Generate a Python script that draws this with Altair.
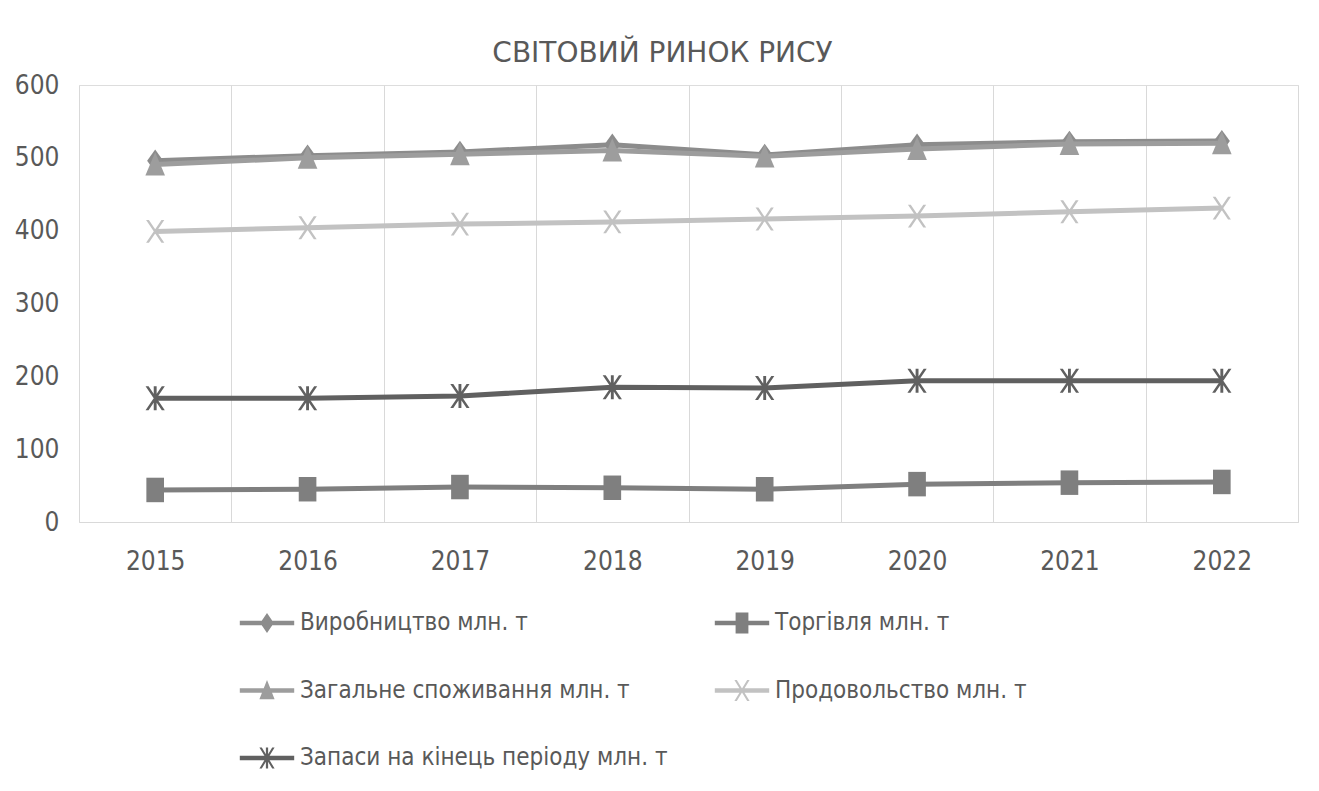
import altair as alt
import pandas as pd

years = ["2015", "2016", "2017", "2018", "2019", "2020", "2021", "2022"]
series_names = [
    "Виробництво млн. т",
    "Торгівля млн. т",
    "Загальне споживання млн. т",
    "Продовольство млн. т",
    "Запаси на кінець періоду млн. т",
]
production = [496, 503, 508, 518, 504, 518, 522, 523]
trade = [44, 45, 48, 47, 45, 52, 54, 55]
consumption = [491, 500, 505, 510, 502, 512, 519, 520]
food = [399, 404, 409, 412, 416, 420, 426, 431]
stocks = [170, 170, 173, 185, 184, 194, 194, 194]
y_ticks = [0, 100, 200, 300, 400, 500, 600]

colors = ["#8c8c8c", "#7f7f7f", "#9d9d9d", "#c2c2c2", "#606060"]

# marker shapes (normalised [-1,1] paths, slightly narrowed like the source)
DIAMOND = "M0,-1L0.72,0L0,1L-0.72,0Z"
SQUARE = "M-0.72,-1H0.72V1H-0.72Z"
TRIANGLE = "M0,-1L0.8,0.9H-0.8Z"
XBARS = "M-0.8,-1H-0.55L0.8,1H0.55Z M0.55,-1H0.8L-0.55,1H-0.8Z"
ASTER = XBARS + " M-0.12,-1H0.12V1H-0.12Z"
plot_shapes = [DIAMOND, SQUARE, TRIANGLE, XBARS, ASTER]
plot_sizes = [500, 600, 600, 520, 580]

LINE = "M-3.4,-0.28H3.4V0.28H-3.4Z"
LX = "M-0.95,-1.3H-0.65L0.95,1.3H0.65Z M0.65,-1.3H0.95L-0.65,1.3H-0.95Z"
legend_shapes = [
    LINE + " M0,-1.25L0.85,0L0,1.25L-0.85,0Z",
    LINE + " M-0.8,-1.3H0.8V1.3H-0.8Z",
    LINE + " M0,-1.3L0.95,1.1H-0.95Z",
    LINE + " " + LX,
    LINE + " " + LX + " M-0.14,-1.3H0.14V1.3H-0.14Z",
]

rows = []
for name, vals in zip(series_names, [production, trade, consumption, food, stocks]):
    for yr, v in zip(years, vals):
        rows.append({"year": yr, "series": name, "value": v})
df = pd.DataFrame(rows)

LABEL_FONT = "DejaVu Sans Condensed"
TXT = "#595959"

x_enc = alt.X(
    "year:O",
    sort=years,
    scale=alt.Scale(type="band", paddingInner=0, paddingOuter=0),
    axis=alt.Axis(
        title=None, labelAngle=0, tickBand="extent", grid=True, gridColor="#d9d9d9",
        gridWidth=1, ticks=False, domain=True, domainColor="#d9d9d9", domainWidth=1,
        labelFont=LABEL_FONT, labelFontSize=26, labelColor=TXT, labelPadding=26,
    ),
)
y_enc = alt.Y(
    "value:Q",
    scale=alt.Scale(domain=[0, 600], nice=False, zero=True),
    axis=alt.Axis(
        title=None, values=y_ticks, grid=False, domain=False, ticks=False,
        labelFont=LABEL_FONT, labelFontSize=26, labelColor=TXT, labelPadding=20,
    ),
)
color_scale = alt.Scale(domain=series_names, range=colors)

base = alt.Chart(df)
layers = []
for name, col, shp, sz in zip(series_names, colors, plot_shapes, plot_sizes):
    sub = base.transform_filter(alt.datum.series == name)
    layers.append(
        sub.mark_line(strokeWidth=5, strokeJoin="round", color=col).encode(x=x_enc, y=y_enc)
    )
    layers.append(
        sub.mark_point(shape=shp, filled=True, size=sz, opacity=1, strokeWidth=0, color=col).encode(
            x=x_enc, y=y_enc
        )
    )

leg = alt.Legend(
    title=None, orient="none", legendX=176, legendY=526, columns=2, direction="horizontal",
    columnPadding=46, rowPadding=43.5, padding=0, offset=0,
    labelFont=LABEL_FONT, labelFontSize=24, labelColor=TXT, labelLimit=800,
    labelOffset=21, symbolSize=256, symbolOpacity=1, symbolStrokeWidth=0,
)
legend_layer = base.mark_point(filled=True, opacity=0).encode(
    x=x_enc, y=y_enc,
    color=alt.Color("series:N", scale=color_scale, legend=leg, sort=series_names),
    shape=alt.Shape("series:N", scale=alt.Scale(domain=series_names, range=legend_shapes),
                    legend=leg, sort=series_names),
)
layers.append(legend_layer)

chart = alt.layer(*layers).properties(
    width=1219,
    height=437,
    title=alt.TitleParams(
        "СВІТОВИЙ РИНОК РИСУ", font="DejaVu Sans", fontSize=28, fontWeight="normal",
        color=TXT, anchor="middle", dx=-26, offset=4,
    ),
    autosize=alt.AutoSizeParams(type="none"),
    padding={"left": 71, "top": 77, "right": 12, "bottom": 255},
).configure_view(strokeWidth=0, stroke="transparent").configure(background="white")

chart.save("out.html", embed_options={"renderer": "svg", "actions": False})
